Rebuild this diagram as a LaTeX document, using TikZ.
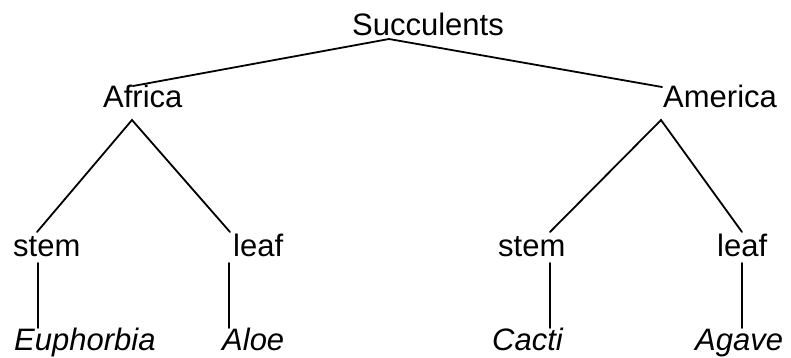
\documentclass[tikz,border=0pt]{standalone}
\usepackage{fontspec}
\setmainfont{Liberation Sans}
\begin{document}
\begin{tikzpicture}[x=1pt,y=-1pt,
  label/.style={anchor=base west,inner sep=0pt,font=\fontsize{31}{37}\selectfont},
  genus/.style={label,font=\fontsize{31}{37}\selectfont\itshape},
  branch/.style={line width=1.8pt,line cap=round}]
\useasboundingbox (0,0) rectangle (791,357);

% labels of the tree
\node[label] (succ)    at (352,35)  {Succulents};
\node[label] (africa)  at (103,107) {Africa};
\node[label] (america) at (663,107) {America};
\node[label] (stemL)   at (13,256)  {stem};
\node[label] (leafL)   at (233,256) {leaf};
\node[label] (stemR)   at (498,256) {stem};
\node[label] (leafR)   at (717,256) {leaf};
\node[genus] (euph)    at (14,350)  {Euphorbia};
\node[genus] (aloe)    at (222,350) {Aloe};
\node[genus] (cacti)   at (492,350) {Cacti};
\node[genus] (agave)   at (695,350) {Agave};

% attachment points of the branches
\coordinate (succ-foot)    at ([shift={(37,4)}]succ.base west);
\coordinate (africa-top)   at ([shift={(30,-21)}]africa.base west);
\coordinate (africa-foot)  at ([shift={(29,13)}]africa.base west);
\coordinate (america-top)  at ([shift={(-1,-20)}]america.base west);
\coordinate (america-foot) at ([shift={(-2,13)}]america.base west);
\coordinate (stemL-top)    at ([shift={(24,-24)}]stemL.base west);
\coordinate (stemL-foot)   at ([shift={(25,7)}]stemL.base west);
\coordinate (leafL-top)    at ([shift={(-3,-24)}]leafL.base west);
\coordinate (leafL-foot)   at ([shift={(-4,7)}]leafL.base west);
\coordinate (stemR-top)    at ([shift={(52,-24)}]stemR.base west);
\coordinate (stemR-foot)   at ([shift={(52,7)}]stemR.base west);
\coordinate (leafR-top)    at ([shift={(25,-24)}]leafR.base west);
\coordinate (leafR-foot)   at ([shift={(25,7)}]leafR.base west);
\coordinate (euph-top)     at ([shift={(24,-22)}]euph.base west);
\coordinate (aloe-top)     at ([shift={(7,-22)}]aloe.base west);
\coordinate (cacti-top)    at ([shift={(58,-22)}]cacti.base west);
\coordinate (agave-top)    at ([shift={(47,-22)}]agave.base west);

% branches
\draw[branch] (africa-top) -- (succ-foot) -- (america-top);
\draw[branch] (stemL-top) -- (africa-foot) -- (leafL-top);
\draw[branch] (stemR-top) -- (america-foot) -- (leafR-top);
\draw[branch] (stemL-foot) -- (euph-top);
\draw[branch] (leafL-foot) -- (aloe-top);
\draw[branch] (stemR-foot) -- (cacti-top);
\draw[branch] (leafR-foot) -- (agave-top);
\end{tikzpicture}
\end{document}
